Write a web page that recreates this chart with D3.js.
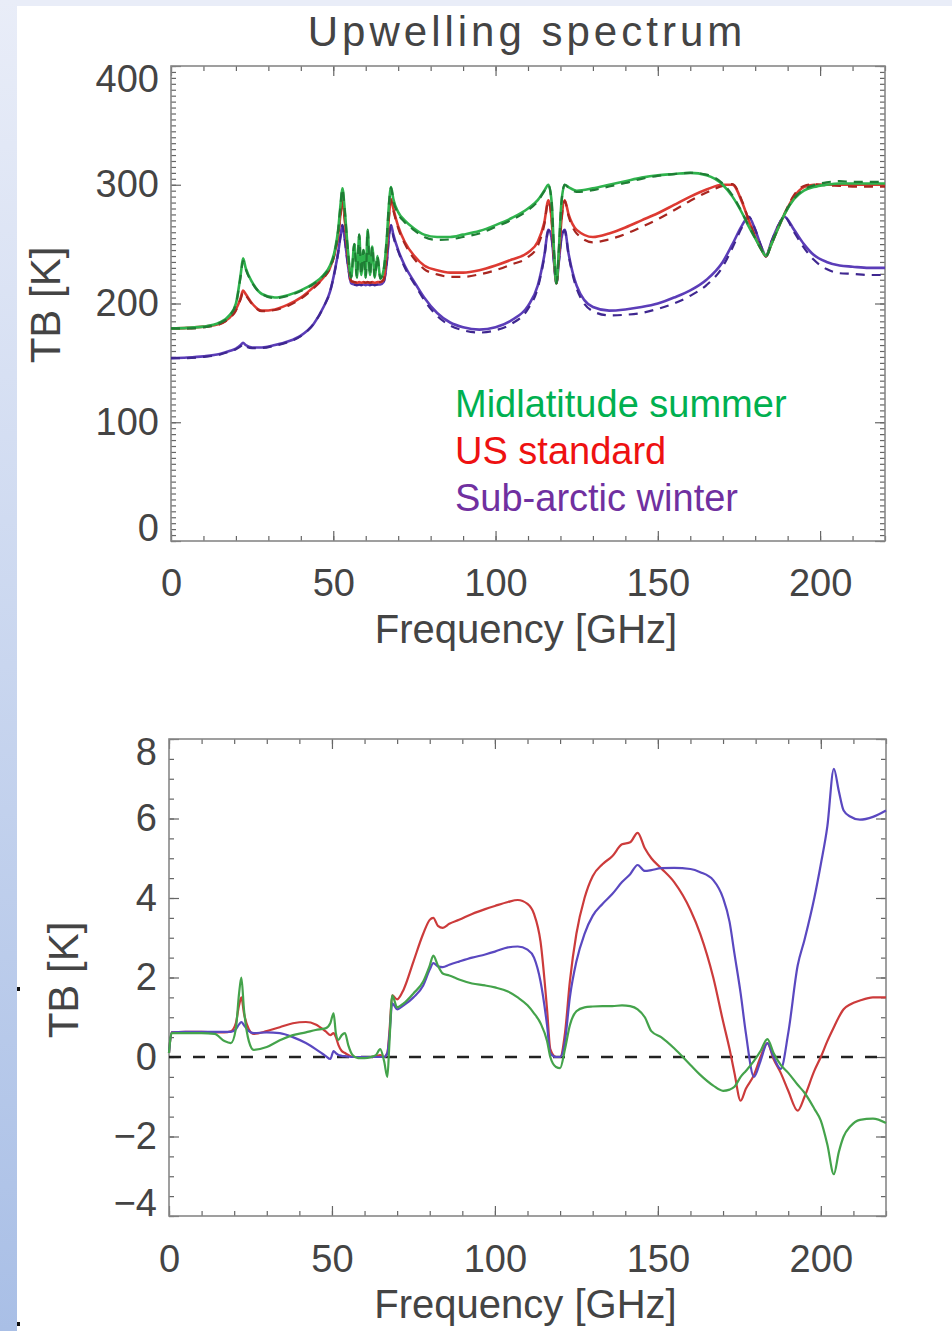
<!DOCTYPE html>
<html>
<head>
<meta charset="utf-8">
<script src="https://cdn.jsdelivr.net/npm/d3@7"></script>
<style>
  body { margin: 0; background: #fff; }
  text { font-family: "Liberation Sans", Arial, sans-serif; }
</style>
</head>
<body>
<div id="chart"></div>
<script>
// ---- data: upwelling brightness temperature [K] ----
const freqTop = [
  0, 5, 10, 15, 18, 20, 21.5, 22.2, 23, 25,
  28, 32, 36, 40, 44, 47, 49, 50.5, 51.5, 52.3,
  52.8, 53.5, 54.5, 55.5, 56.5, 57.3, 58, 58.6, 59.3, 60,
  60.6, 61.3, 62, 62.8, 63.6, 64.5, 65.5, 66.5, 67.2, 67.8,
  68.5, 70, 72, 75, 78, 82, 86, 90, 95, 100,
  105, 110, 113, 115, 116.3, 117.3, 118, 118.75, 119.5, 120.3,
  121.3, 122.5, 125, 130, 135, 140, 145, 150, 155, 160,
  165, 170, 173, 176, 178, 180, 182, 183.3, 185, 187,
  189, 192, 195, 198, 202, 206, 210, 215, 220
];
const summerTb = [
  179, 179.5, 180.5, 184, 190, 200, 225, 238, 230, 218,
  208, 205, 207, 211, 217, 224, 232, 245, 262, 285,
  297, 280, 245, 222, 250, 222, 258, 224, 245, 222,
  262, 224, 248, 222, 240, 221, 228, 255, 285, 298,
  288, 277, 270, 263, 258, 256, 256, 258, 261, 266,
  272, 280, 287, 295, 300, 285, 245, 217, 245, 285,
  300, 298, 295, 297, 300, 303, 306, 308, 309, 310,
  308, 300, 290, 276, 265, 255, 245, 240, 250, 263,
  275, 288, 295, 298, 300, 301, 301, 301, 301
];
const summerTbDash = [
  179, 179, 180, 183.5, 189.5, 199.5, 223.5, 236, 229, 217.5,
  208, 204.5, 206.5, 210.5, 216.5, 223.5, 231, 244, 261.5, 284.5,
  296.5, 279.5, 244.5, 222, 250, 222, 258, 224, 245, 222,
  262, 224, 248, 222, 240, 221, 228, 255.5, 285.5, 297.5,
  286.5, 275.5, 268.5, 261.5, 256, 253.5, 254, 256, 259, 264.5,
  270.5, 278.5, 286, 294.5, 299.5, 285, 245, 217, 245, 285,
  300, 297.5, 294, 295.5, 298.5, 301.5, 305, 307.5, 309, 310,
  308.5, 301, 291, 276.5, 265.5, 255, 245, 239.5, 250, 263,
  275.5, 288.5, 296, 299.5, 302, 303, 302.5, 302.5, 302.5
];
const standardTb = [
  179, 179.5, 180.5, 183, 188, 195, 205, 211, 208, 200,
  194, 195, 199, 205, 214, 222, 230, 243, 258, 277,
  288, 272, 240, 219, 218, 217.5, 218, 217.5, 218, 217.5,
  218, 217.5, 218, 217.5, 218, 218, 220, 245, 275, 288,
  280, 265, 252, 240, 232, 228, 226, 226, 228, 232,
  237, 243, 252, 268, 287, 270, 240, 217, 240, 270,
  287, 275, 262, 256, 259, 264, 270, 276, 283, 290,
  296, 300, 300, 285, 270, 256, 245, 240, 250, 263,
  275, 290, 298, 300, 300, 300, 300, 300, 300
];
const standardTbDash = [
  179, 179, 180, 182.5, 187.5, 194, 204, 209.5, 207, 199.5,
  193.5, 194.5, 198, 204, 213, 221.5, 229.5, 242.5, 257.5, 276.5,
  288, 272, 240, 219, 218, 217.5, 218, 217.5, 218, 217.5,
  218, 217.5, 218, 217.5, 218, 218, 220, 245, 274.5, 287,
  278.5, 263.5, 250.5, 237.5, 229, 224.5, 222.5, 222.5, 224.5, 228,
  233, 239, 248.5, 266, 286, 270, 240, 217, 240, 270,
  286.5, 273.5, 259, 251.5, 254, 258.5, 264.5, 271, 278.5, 286.5,
  293.5, 299, 300.5, 286, 270.5, 256.5, 245, 239.5, 250, 263.5,
  275.5, 291.5, 299, 300.5, 299.5, 299, 298.5, 298.5, 298.5
];
const winterTb = [
  154, 154.5, 155.5, 157.5, 160, 162, 165, 167, 165, 163,
  163, 165, 168, 173, 183, 197, 210, 228, 243, 258,
  266, 255, 233, 217, 216, 215.5, 216, 215.5, 216, 215.5,
  216, 215.5, 216, 215.5, 216, 216, 218, 235, 258, 266,
  258, 245, 232, 218, 205, 192, 184, 180, 178, 180,
  186, 198, 215, 240, 262, 255, 235, 217, 235, 255,
  262, 242, 215, 197, 194, 195, 197, 200, 205, 211,
  220, 235, 250, 266, 273, 262, 247, 240, 252, 265,
  273, 262, 250, 241, 235, 232, 231, 230, 230
];
const winterTbDash = [
  154, 154, 155, 157, 159.5, 161.5, 164, 166, 164, 162.5,
  162.5, 164.5, 167.5, 172.5, 183, 197, 210, 227.5, 242.5, 258,
  266, 255, 233, 217, 216, 215.5, 216, 215.5, 216, 215.5,
  216, 215.5, 216, 215.5, 216, 216, 218, 235, 257.5, 265.5,
  256.5, 244, 230.5, 216.5, 203, 189.5, 181.5, 177.5, 175.5, 177.5,
  183, 195.5, 213, 238.5, 261.5, 255, 235, 217, 235, 255,
  261.5, 241, 212.5, 193.5, 190, 190.5, 192, 195.5, 200, 206.5,
  215.5, 231, 247, 264.5, 273, 262.5, 247, 239.5, 252, 265,
  273, 260, 247, 237, 229, 225.5, 225, 224, 224
];

// ---- data: TB difference [K] ----
const freqDiff = [
  0, 0.8, 5, 10, 14, 17, 19, 20.5, 21.5, 22.2,
  23, 24.5, 26, 30, 34, 38, 42, 45, 48, 49.5,
  50.5, 51.2, 52, 53, 54, 55, 56.3, 58, 60, 62,
  63.5, 64.8, 66, 67, 67.6, 68.5, 70, 72, 75, 78,
  80, 81.1, 82.5, 84, 86, 89, 93, 97, 100, 104,
  107, 110, 112, 114, 116, 117, 118.75, 120, 121.5, 123,
  125, 127.5, 130, 133, 136, 139, 141.5, 143.8, 146, 148,
  151, 155, 160, 163, 167, 170, 172, 173.5, 175.4, 177,
  179.5, 181.5, 183.6, 185.5, 187.7, 190, 192.9, 195, 198, 200,
  202, 204, 205.5, 207, 209, 212, 216, 220
];
const standardDiff = [
  0.1, 0.62, 0.63, 0.63, 0.62, 0.62, 0.65, 0.85, 1.3, 1.5,
  1.1, 0.7, 0.58, 0.65, 0.75, 0.85, 0.88, 0.82, 0.65, 0.55,
  0.6, 0.5, 0.3, 0.15, 0.1, 0.05, 0, 0, 0, 0,
  0.02, 0.05, 0, 0.1, 0.6, 1.55, 1.45, 1.7, 2.4, 3.1,
  3.45, 3.5, 3.3, 3.25, 3.35, 3.45, 3.6, 3.72, 3.8, 3.9,
  3.95, 3.85, 3.6, 2.9, 1.2, 0.2, 0, 0, 0.6, 1.9,
  3.1, 4.0, 4.55, 4.85, 5.05, 5.35, 5.4, 5.64, 5.25, 5.0,
  4.75, 4.4, 3.7, 3.1, 2.0, 0.9, 0.2, -0.4, -1.1, -0.8,
  -0.45, 0, 0.35, -0.05, -0.4, -0.85, -1.35, -1.0, -0.35, 0,
  0.4, 0.75, 1.0, 1.2, 1.32, 1.42, 1.5, 1.5
];
const summerDiff = [
  0.1, 0.6, 0.6, 0.6, 0.58, 0.4, 0.35, 0.7, 1.6, 2.0,
  1.2, 0.4, 0.18, 0.25, 0.42, 0.55, 0.62, 0.68, 0.72, 0.85,
  1.1, 0.6, 0.43, 0.55, 0.6, 0.3, 0.05, -0.03, -0.03, 0,
  0.05, 0.2, -0.1, -0.5, 0.3, 1.55, 1.25, 1.35, 1.6, 1.9,
  2.3, 2.55, 2.3, 2.1, 2.05, 1.95, 1.85, 1.8, 1.75, 1.65,
  1.5, 1.3, 1.1, 0.85, 0.4, 0, -0.25, -0.28, 0.2, 0.8,
  1.15, 1.25, 1.27, 1.28, 1.28, 1.3, 1.28, 1.2, 1.0, 0.65,
  0.5, 0.22, -0.2, -0.45, -0.72, -0.85, -0.82, -0.75, -0.5, -0.35,
  -0.1, 0.15, 0.45, 0.1, -0.2, -0.4, -0.7, -0.9, -1.3, -1.6,
  -2.2, -2.95, -2.4, -2.0, -1.75, -1.58, -1.55, -1.66
];
const winterDiff = [
  0.1, 0.62, 0.63, 0.63, 0.63, 0.63, 0.63, 0.7, 0.82, 0.88,
  0.8, 0.65, 0.6, 0.62, 0.6, 0.5, 0.35, 0.2, 0.03, -0.05,
  0.15, 0.1, 0.05, 0.03, 0.02, 0.01, 0, 0, 0, 0,
  0, 0, 0, 0.1, 0.5, 1.35, 1.2, 1.3, 1.5, 1.8,
  2.2, 2.36, 2.28, 2.26, 2.32, 2.4, 2.5, 2.58, 2.65, 2.76,
  2.78, 2.7, 2.5, 1.9, 0.8, 0.1, 0, 0, 0.4, 1.5,
  2.4, 3.1, 3.55, 3.85, 4.1, 4.4, 4.6, 4.83, 4.68, 4.7,
  4.75, 4.76, 4.73, 4.65, 4.45, 4.0, 3.4, 2.6, 1.6, 0.6,
  -0.5, -0.1, 0.35, 0, -0.3, 0.6, 2.3, 2.95, 4.0, 4.85,
  5.8, 7.25, 6.7, 6.2, 6.05, 5.97, 6.04, 6.2
];

const legendLabels = ["Midlatitude summer", "US standard", "Sub-arctic winter"];
const legendColors = ["#00b050", "#ee1111", "#7030a0"];
const freqTicks = [0, 50, 100, 150, 200];
const tbTicks = [0, 100, 200, 300, 400];
const diffTicks = [-4, -2, 0, 2, 4, 6, 8];

// ---- page ----
const svg = d3.select("#chart").append("svg")
    .attr("width", 952)
    .attr("height", 1331);

const defs = svg.append("defs");
const edge = defs.append("linearGradient")
    .attr("id", "edge")
    .attr("x1", 0).attr("y1", 0).attr("x2", 0).attr("y2", 1);
edge.append("stop").attr("offset", "0%").attr("stop-color", "#e9edf8");
edge.append("stop").attr("offset", "100%").attr("stop-color", "#a9bfe6");

svg.append("rect").attr("width", 952).attr("height", 1331).attr("fill", "#fff");
svg.append("rect").attr("width", 952).attr("height", 6).attr("fill", "#e9edf8");
svg.append("rect").attr("width", 17).attr("height", 1331).attr("fill", "url(#edge)");
svg.append("rect").attr("x", 17).attr("y", 987).attr("width", 3).attr("height", 4).attr("fill", "#111");
svg.append("rect").attr("x", 17).attr("y", 1322).attr("width", 3).attr("height", 4).attr("fill", "#111");

function drawPanel(cfg) {
    const x = d3.scaleLinear().domain([0, 220]).range(cfg.xRange);
    const y = d3.scaleLinear().domain(cfg.yDomain).range(cfg.yRange);
    const [x0, x1] = cfg.xRange;
    const [y0, y1] = cfg.yRange;
    const g = svg.append("g");

    // inward ticks on all four sides
    const minorX = d3.range(0, 221, 10);
    const minorY = d3.range(cfg.yDomain[0], cfg.yDomain[1] + 1e-6, cfg.minorStep);
    const sides = [
        [d3.axisBottom(x), `translate(0,${y0})`, minorX],
        [d3.axisTop(x), `translate(0,${y1})`, minorX],
        [d3.axisLeft(y), `translate(${x0},0)`, minorY],
        [d3.axisRight(y), `translate(${x1},0)`, minorY]
    ];
    sides.forEach(([axis, tr, vals]) => {
        g.append("g")
            .attr("transform", tr)
            .call(axis.tickValues(vals).tickSizeInner(-5).tickSizeOuter(0).tickFormat(""))
            .call(s => s.select(".domain").remove())
            .call(s => s.selectAll("line").attr("stroke", "#666").attr("stroke-width", 1.2));
    });

    [[d3.axisTop(x), `translate(0,${y1})`, freqTicks],
     [d3.axisRight(y), `translate(${x1},0)`, cfg.yTicks]].forEach(([axis, tr, vals]) => {
        g.append("g")
            .attr("transform", tr)
            .call(axis.tickValues(vals).tickSizeInner(-10).tickSizeOuter(0).tickFormat(""))
            .call(s => s.select(".domain").remove())
            .call(s => s.selectAll("line").attr("stroke", "#666").attr("stroke-width", 1.2));
    });

    // labelled axes
    g.append("g")
        .attr("transform", `translate(0,${y0})`)
        .call(d3.axisBottom(x).tickValues(freqTicks).tickSizeInner(-10).tickSizeOuter(0).tickPadding(cfg.xPad))
        .call(s => s.select(".domain").remove())
        .call(s => s.selectAll("line").attr("stroke", "#666").attr("stroke-width", 1.2))
        .call(s => s.selectAll("text").attr("font-size", 38).attr("fill", "#444"));

    const yMin = cfg.yDomain[0], yMax = cfg.yDomain[1];
    g.append("g")
        .attr("transform", `translate(${x0},0)`)
        .call(d3.axisLeft(y).tickValues(cfg.yTicks).tickSizeInner(-10).tickSizeOuter(0).tickPadding(12))
        .call(s => s.select(".domain").remove())
        .call(s => s.selectAll("line").attr("stroke", "#666").attr("stroke-width", 1.2))
        .call(s => s.selectAll("text")
            .attr("font-size", 38).attr("fill", "#444")
            .attr("y", d => d === yMin ? -13 : d === yMax ? 13 : 0));

    // frame
    g.append("rect")
        .attr("x", x0).attr("y", y1)
        .attr("width", x1 - x0).attr("height", y0 - y1)
        .attr("fill", "none")
        .attr("stroke", "#888")
        .attr("stroke-width", 1.6);

    // axis titles
    g.append("text")
        .attr("x", (x0 + x1) / 2 - 2)
        .attr("y", cfg.xTitleY)
        .attr("text-anchor", "middle")
        .attr("font-size", 40)
        .attr("fill", "#444")
        .text("Frequency [GHz]");

    g.append("text")
        .attr("transform", `translate(${cfg.yTitleX},${cfg.yTitleY}) rotate(-90)`)
        .attr("text-anchor", "middle")
        .attr("font-size", 42)
        .attr("fill", "#444")
        .text("TB [K]");

    return { x, y, g };
}

// ---- top panel ----
const topPanel = drawPanel({
    xRange: [171, 885], yRange: [541, 66], yDomain: [0, 400],
    yTicks: tbTicks, minorStep: 5, xPad: 28,
    xTitleY: 643, yTitleX: 60, yTitleY: 305
});

const lineTop = d3.line()
    .x(d => topPanel.x(d[0]))
    .y(d => topPanel.y(d[1]))
    .curve(d3.curveMonotoneX);

const topSeries = [
    { solid: winterTb, dash: winterTbDash, color: "#5b3db8", dark: "#3f2790" },
    { solid: standardTb, dash: standardTbDash, color: "#dd3a32", dark: "#a82620" },
    { solid: summerTb, dash: summerTbDash, color: "#2fb34d", dark: "#1f7d35" }
];
topSeries.forEach(s => {
    topPanel.g.append("path")
        .datum(d3.zip(freqTop, s.solid))
        .attr("fill", "none")
        .attr("stroke", s.color)
        .attr("stroke-width", 2.6)
        .attr("stroke-linejoin", "round")
        .attr("d", lineTop);
    topPanel.g.append("path")
        .datum(d3.zip(freqTop, s.dash))
        .attr("fill", "none")
        .attr("stroke", s.dark)
        .attr("stroke-width", 2.2)
        .attr("stroke-dasharray", "9,7")
        .attr("d", lineTop);
});

// title
svg.append("text")
    .attr("x", 527)
    .attr("y", 46)
    .attr("text-anchor", "middle")
    .attr("font-size", 42)
    .attr("letter-spacing", 4)
    .attr("fill", "#444")
    .text("Upwelling spectrum");

// legend
svg.selectAll(".legend")
    .data(legendLabels)
    .enter()
    .append("text")
    .attr("class", "legend")
    .attr("x", 455)
    .attr("y", (d, i) => 417 + i * 47)
    .attr("font-family", "Lato, 'Open Sans', sans-serif")
    .attr("font-size", 38)
    .attr("fill", (d, i) => legendColors[i])
    .text(d => d);

// ---- bottom panel ----
const bottomPanel = drawPanel({
    xRange: [169, 886], yRange: [1216, 739], yDomain: [-4, 8],
    yTicks: diffTicks, minorStep: 0.5, xPad: 29,
    xTitleY: 1318, yTitleX: 78, yTitleY: 980
});

bottomPanel.g.append("line")
    .attr("x1", bottomPanel.x(0)).attr("x2", bottomPanel.x(220))
    .attr("y1", bottomPanel.y(0)).attr("y2", bottomPanel.y(0))
    .attr("stroke", "#222")
    .attr("stroke-width", 2.6)
    .attr("stroke-dasharray", "12,12");

const lineBottom = d3.line()
    .x(d => bottomPanel.x(d[0]))
    .y(d => bottomPanel.y(d[1]))
    .curve(d3.curveMonotoneX);

[
    { values: standardDiff, color: "#cc3b3b" },
    { values: winterDiff, color: "#5a48c0" },
    { values: summerDiff, color: "#44a34b" }
].forEach(s => {
    bottomPanel.g.append("path")
        .datum(d3.zip(freqDiff, s.values))
        .attr("fill", "none")
        .attr("stroke", s.color)
        .attr("stroke-width", 2.2)
        .attr("stroke-linejoin", "round")
        .attr("d", lineBottom);
});
</script>
</body>
</html>
